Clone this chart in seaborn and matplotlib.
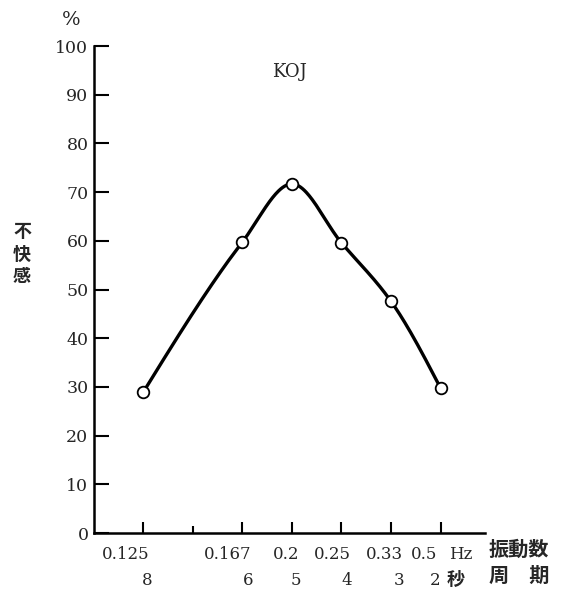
import numpy as np
import pandas as pd
import matplotlib
matplotlib.use("Agg")
import matplotlib.pyplot as plt
import matplotlib.transforms as mtransforms
import seaborn as sns

# Data: discomfort ratio vs. oscillation period (frequency)
period_s = [8, 6, 5, 4, 3, 2]
discomfort_pct = [29.0, 59.8, 71.7, 59.6, 47.6, 29.8]
freq_labels = ["0.125", "0.167", "0.2", "0.25", "0.33", "0.5"]
period_labels = ["8", "6", "5", "4", "3", "2"]
y_ticks = [0, 10, 20, 30, 40, 50, 60, 70, 80, 90, 100]

sns.set_theme(style="white")
plt.rcParams["font.family"] = ["DejaVu Serif", "Noto Sans CJK JP"]
plt.rcParams["axes.unicode_minus"] = False

SERIF = ["DejaVu Serif", "Noto Sans CJK JP"]
CJK = ["Noto Sans CJK JP", "DejaVu Sans"]


def smooth_curve(x, y, n=300):
    """Shape-preserving cubic Hermite curve (natural end slopes)."""
    x = np.asarray(x, float)
    y = np.asarray(y, float)
    order = np.argsort(x)
    x, y = x[order], y[order]
    h = np.diff(x)
    delta = np.diff(y) / h
    m = len(x)
    d = np.zeros(m)
    for k in range(1, m - 1):
        if delta[k - 1] * delta[k] > 0:
            w1 = 2 * h[k] + h[k - 1]
            w2 = h[k] + 2 * h[k - 1]
            d[k] = (w1 + w2) / (w1 / delta[k - 1] + w2 / delta[k])
    d[0] = 1.5 * delta[0] - 0.5 * d[1]
    d[-1] = 1.5 * delta[-1] - 0.5 * d[-2]
    xs = np.linspace(x[0], x[-1], n)
    idx = np.clip(np.searchsorted(x, xs) - 1, 0, m - 2)
    hh = h[idx]
    t = (xs - x[idx]) / hh
    h00 = 2 * t ** 3 - 3 * t ** 2 + 1
    h10 = t ** 3 - 2 * t ** 2 + t
    h01 = -2 * t ** 3 + 3 * t ** 2
    h11 = t ** 3 - t ** 2
    ys = h00 * y[idx] + h10 * hh * d[idx] + h01 * y[idx + 1] + h11 * hh * d[idx + 1]
    return xs, ys


df = pd.DataFrame({"period": period_s, "pct": discomfort_pct})
xs, ys = smooth_curve(period_s, discomfort_pct)
curve = pd.DataFrame({"period": xs, "pct": ys})

fig = plt.figure(figsize=(5.66, 5.91), dpi=100)
ax = fig.add_axes([0.166, 0.098, 0.691, 0.824])

sns.lineplot(data=curve, x="period", y="pct", ax=ax, color="black",
             linewidth=2.4, sort=False, estimator=None)
sns.scatterplot(data=df, x="period", y="pct", ax=ax, s=70, marker="o",
                facecolor="white", edgecolor="black", linewidth=1.3, zorder=5)

ax.set_xlim(9.0, 1.1)
ax.set_ylim(0, 100)
ax.set_xlabel("")
ax.set_ylabel("")

for side in ("top", "right"):
    ax.spines[side].set_visible(False)
for side in ("left", "bottom"):
    ax.spines[side].set_color("black")
    ax.spines[side].set_linewidth(1.8)

ax.set_yticks(y_ticks)
ax.set_yticklabels([str(v) for v in y_ticks], fontsize=12.5, family=SERIF)
ax.tick_params(axis="y", direction="in", length=11, width=1.5, color="black",
               pad=4, left=True)
ax.set_xticks(period_s)
ax.set_xticks([7], minor=True)
ax.set_xticklabels([])
ax.tick_params(axis="x", which="major", direction="in", length=8, width=1.5,
               color="black", bottom=True)
ax.tick_params(axis="x", which="minor", direction="in", length=5, width=1.5,
               color="black", bottom=True)

# Two-row x labels: frequency (Hz) above, period (s) below
trans = mtransforms.blended_transform_factory(ax.transData, ax.transAxes)
off = lambda dx: mtransforms.offset_copy(trans, fig=fig, x=dx, y=0, units="dots")
row1_dx = [-18, -15, -6, -9, -7, -16]
row2_dx = [4, 6, 4, 5, 8, -5]
for p, lab, dx in zip(period_s, freq_labels, row1_dx):
    ax.text(p, -0.027, lab, transform=off(dx), ha="center", va="top",
            fontsize=12, family=SERIF)
for p, lab, dx in zip(period_s, period_labels, row2_dx):
    ax.text(p, -0.106, lab, transform=off(dx), ha="center", va="baseline",
            fontsize=12, family=SERIF)
ax.text(2, -0.027, "Hz", transform=off(20), ha="center", va="top",
        fontsize=12, family=SERIF)
ax.text(2, -0.106, "秒", transform=off(15), ha="center", va="baseline",
        fontsize=13, family=CJK, fontweight="bold")

fig.text(0.864, 0.071, "振動数", ha="left", va="center", fontsize=14.5,
         family=CJK, fontweight="bold")
fig.text(0.864, 0.026, "周\u3000期", ha="left", va="center", fontsize=14.5,
         family=CJK, fontweight="bold")

fig.text(0.125, 0.966, "%", ha="center", va="center", fontsize=14, family=SERIF)
fig.text(0.039, 0.57, "不\n快\n感", ha="center", va="center", fontsize=13,
         family=CJK, fontweight="bold", linespacing=1.25)
ax.text(5.05, 94.7, "KOJ", ha="center", va="center", fontsize=13,
        family=SERIF)

fig.savefig("out.png", dpi=100, facecolor="white")
